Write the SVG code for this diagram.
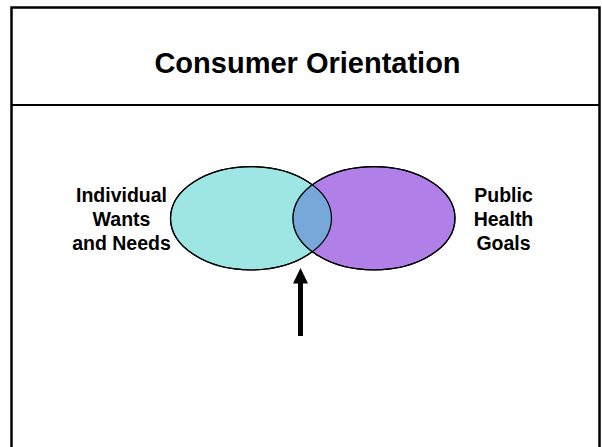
<svg xmlns="http://www.w3.org/2000/svg" width="602" height="447" viewBox="0 0 602 447">
<style>
.lbl{font-family:"Liberation Sans",Arial,sans-serif;font-weight:bold;font-size:19.5px;fill:#000;text-anchor:middle}
.ttl{font-family:"Liberation Sans",Arial,sans-serif;font-weight:bold;font-size:29px;fill:#000;text-anchor:middle}
.ell{stroke:#000;stroke-width:1.2}
</style>
<defs>
<clipPath id="clipL"><ellipse cx="251" cy="218.3" rx="80.5" ry="51.7"/></clipPath>
</defs>
<rect width="602" height="447" fill="#fff"/>
<g id="frame">
<rect x="11.5" y="7.5" width="588" height="460" fill="none" stroke="#000" stroke-width="2.5"/>
<line x1="11" y1="105" x2="600" y2="105" stroke="#000" stroke-width="2"/>
</g>
<g id="title"><text class="ttl" x="307.5" y="72.5">Consumer Orientation</text></g>
<g id="wants">
<ellipse class="ell" cx="251" cy="218.3" rx="80.5" ry="51.7" fill="#9DE6E3"/>
</g>
<g id="goals">
<ellipse class="ell" cx="374" cy="218.3" rx="81" ry="51.7" fill="#B07FE8"/>
</g>
<g id="overlap">
<ellipse cx="374" cy="218.3" rx="81" ry="51.7" fill="#78A8DA" clip-path="url(#clipL)"/>
<ellipse cx="251" cy="218.3" rx="80.5" ry="51.7" fill="none" stroke="#000" stroke-width="1.2"/>
<ellipse cx="374" cy="218.3" rx="81" ry="51.7" fill="none" stroke="#000" stroke-width="1.2"/>
</g>
<g id="label-left">
<text class="lbl" x="121.5" y="202">Individual</text>
<text class="lbl" x="121.5" y="225.5">Wants</text>
<text class="lbl" x="121.5" y="249.5">and Needs</text>
</g>
<g id="label-right">
<text class="lbl" x="503.5" y="202">Public</text>
<text class="lbl" x="503.5" y="225.5">Health</text>
<text class="lbl" x="503.5" y="249.5">Goals</text>
</g>
<g id="connectors">
<rect x="298" y="282" width="5" height="54" fill="#000"/>
<polygon points="300.5,268 308,283.5 293,283.5" fill="#000"/>
</g>
</svg>
